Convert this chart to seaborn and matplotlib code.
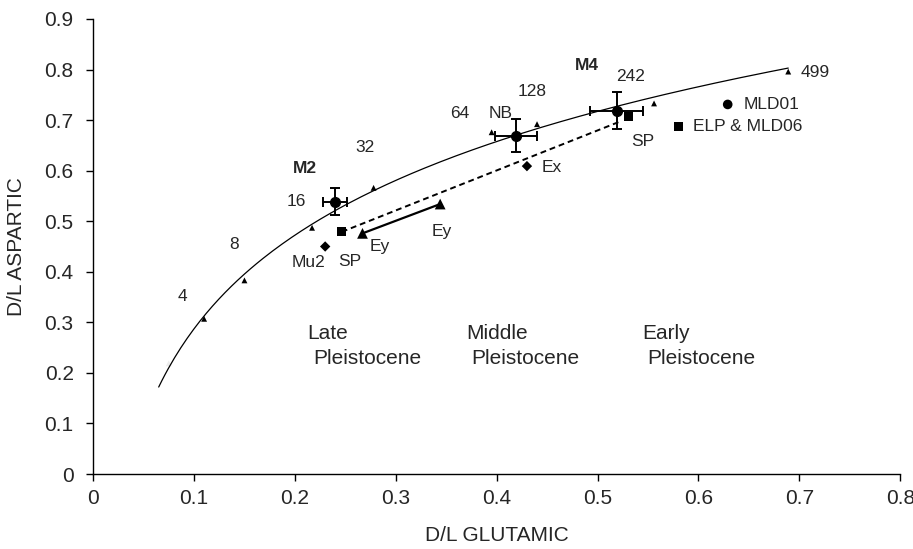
import numpy as np
import pandas as pd
import matplotlib
matplotlib.use("Agg")
import matplotlib.pyplot as plt
import seaborn as sns

# ---------------------------
# DATA
# ---------------------------
# heating series (small triangles) and their labels (hours)
tri_x = [0.110, 0.150, 0.217, 0.278, 0.395, 0.440, 0.556, 0.689]
tri_y = [0.307, 0.383, 0.487, 0.566, 0.676, 0.692, 0.733, 0.796]
faint_x = [0.075]
faint_y = [0.219]
hours = ["4", "8", "16", "32", "64", "128", "242", "499"]
hour_x = [0.0885, 0.140, 0.201, 0.269, 0.363, 0.435, 0.533, 0.716]
hour_y = [0.352, 0.453, 0.539, 0.646, 0.713, 0.756, 0.787, 0.795]

# mean values with error bars (M2, NB, M4)
mean_x = [0.240, 0.419, 0.519]
mean_y = [0.539, 0.669, 0.719]
mean_xerr = [0.012, 0.021, 0.026]
mean_yerr = [0.027, 0.033, 0.036]

# single sites
mld01 = (0.629, 0.731)
sq_x = [0.2465, 0.531, 0.580]  # SP, SP, ELP & MLD06
sq_y = [0.479, 0.707, 0.688]
ey_x = [0.267, 0.344]
ey_y = [0.476, 0.534]
dia_x = [0.230, 0.430]  # Mu2, Ex
dia_y = [0.450, 0.609]
sp_line_x = [0.2465, 0.522]
sp_line_y = [0.479, 0.697]

# ---------------------------
# PLOT
# ---------------------------
sns.set_theme(style="ticks")
plt.rcParams["font.family"] = ["Liberation Sans", "DejaVu Sans"]

fig = plt.figure(figsize=(9.13, 5.49), dpi=100)
ax = fig.add_axes([0.102, 0.1366, 0.884, 0.8288])

# logarithmic trend line through the heating series (faint point included)
fx = np.array(faint_x + tri_x)
fy = np.array(faint_y + tri_y)
coef = np.polyfit(np.log(fx), fy, 1)
fit = pd.DataFrame({"x": np.linspace(0.065, 0.689, 200)})
fit["y"] = coef[0] * np.log(fit["x"]) + coef[1]
sns.lineplot(data=fit, x="x", y="y", ax=ax, color="black", lw=0.9)

sns.scatterplot(x=tri_x, y=tri_y, ax=ax, marker="^", s=18, color="black", edgecolor="none")
sns.scatterplot(x=faint_x, y=faint_y, ax=ax, marker="^", s=18, color="#ececec", edgecolor="none")

# dashed SP line and solid Ey line
ax.plot(sp_line_x, sp_line_y, color="black", lw=1.4, ls=(0, (3, 2)))
ax.plot(ey_x, ey_y, color="black", lw=1.6)

ax.errorbar(mean_x, mean_y, xerr=mean_xerr, yerr=mean_yerr, fmt="o", color="black",
            ms=7, capsize=3.5, elinewidth=1.4, capthick=1.4)

sns.scatterplot(x=[mld01[0]], y=[mld01[1]], ax=ax, marker="o", s=48, color="black", edgecolor="none")
sns.scatterplot(x=sq_x, y=sq_y, ax=ax, marker="s", s=45, color="black", edgecolor="none")
sns.scatterplot(x=ey_x, y=ey_y, ax=ax, marker="^", s=60, color="black", edgecolor="none")
sns.scatterplot(x=dia_x, y=dia_y, ax=ax, marker="D", s=28, color="black", edgecolor="none")

# ---------------------------
# TEXT
# ---------------------------
fs = 12.5
for lab, x, y in zip(hours, hour_x, hour_y):
    ax.text(x, y, lab, fontsize=fs, ha="center", va="center")

ax.text(0.2095, 0.605, "M2", fontsize=fs, fontweight="bold", ha="center", va="center")
ax.text(0.489, 0.808, "M4", fontsize=fs, fontweight="bold", ha="center", va="center")
ax.text(0.404, 0.713, "NB", fontsize=fs, ha="center", va="center")
ax.text(0.645, 0.731, "MLD01", fontsize=fs, ha="left", va="center")
ax.text(0.5947, 0.688, "ELP & MLD06", fontsize=fs, ha="left", va="center")
ax.text(0.545, 0.657, "SP", fontsize=fs, ha="center", va="center")
ax.text(0.4547, 0.607, "Ex", fontsize=fs, ha="center", va="center")
ax.text(0.3456, 0.479, "Ey", fontsize=fs, ha="center", va="center")
ax.text(0.2845, 0.450, "Ey", fontsize=fs, ha="center", va="center")
ax.text(0.2548, 0.420, "SP", fontsize=fs, ha="center", va="center")
ax.text(0.2134, 0.419, "Mu2", fontsize=fs, ha="center", va="center")

fe = 15
ax.text(0.2125, 0.277, "Late", fontsize=fe, ha="left", va="center")
ax.text(0.2184, 0.2275, "Pleistocene", fontsize=fe, ha="left", va="center")
ax.text(0.3698, 0.277, "Middle", fontsize=fe, ha="left", va="center")
ax.text(0.3744, 0.2275, "Pleistocene", fontsize=fe, ha="left", va="center")
ax.text(0.5439, 0.277, "Early", fontsize=fe, ha="left", va="center")
ax.text(0.5489, 0.2275, "Pleistocene", fontsize=fe, ha="left", va="center")

# ---------------------------
# AXES
# ---------------------------
ax.set_xlim(0, 0.8)
ax.set_ylim(0, 0.9)
ax.set_xticks(np.arange(0, 0.81, 0.1))
ax.set_yticks(np.arange(0, 0.91, 0.1))
ax.set_xticklabels(["0", "0.1", "0.2", "0.3", "0.4", "0.5", "0.6", "0.7", "0.8"])
ax.set_yticklabels(["0", "0.1", "0.2", "0.3", "0.4", "0.5", "0.6", "0.7", "0.8", "0.9"])
ax.tick_params(axis="both", labelsize=15, length=5, width=1, color="black", direction="out")
ax.tick_params(axis="x", pad=6)
ax.tick_params(axis="y", pad=9)
ax.set_xlabel("D/L GLUTAMIC", fontsize=15)
ax.set_ylabel("D/L ASPARTIC", fontsize=15)
ax.xaxis.set_label_coords(0.5, -0.115)
ax.yaxis.set_label_coords(-0.083, 0.5)
sns.despine(ax=ax)
for sp in ["left", "bottom"]:
    ax.spines[sp].set_color("black")
    ax.spines[sp].set_linewidth(1)

fig.savefig("out.png", dpi=100)
